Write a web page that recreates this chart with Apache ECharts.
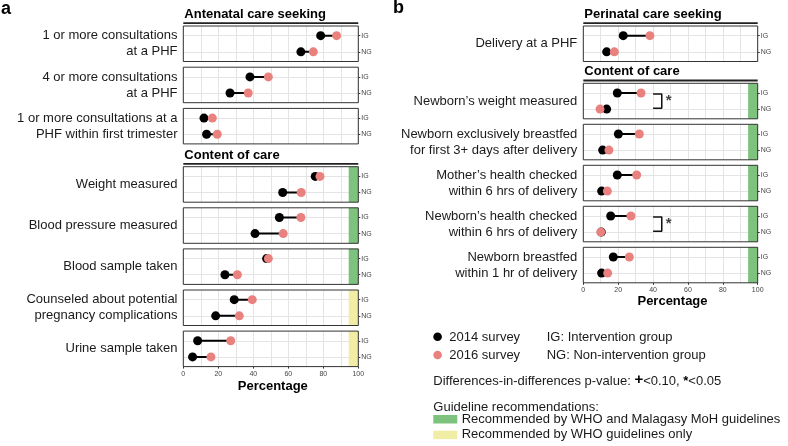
<!DOCTYPE html>
<html><head><meta charset="utf-8">
<script src="https://cdn.jsdelivr.net/npm/echarts@6/dist/echarts.min.js"></script>
<style>html,body{margin:0;padding:0;background:#fff}#c{width:788px;height:446px}</style>
</head><body><div id="c"></div>
<script>
// ---------------- DATA ----------------
const aLabels = [
  '1 or more consultations\nat a PHF',
  '4 or more consultations\nat a PHF',
  '1 or more consultations at a\nPHF within first trimester',
  'Weight measured',
  'Blood pressure measured',
  'Blood sample taken',
  'Counseled about potential\npregnancy complications',
  'Urine sample taken'
];
const a2014IG = [78.5, 38.1, 11.8, 75.4, 54.9, 47.6, 29.1, 8.2];
const a2016IG = [87.6, 48.6, 16.6, 78.1, 67.2, 48.6, 39.4, 27.1];
const a2014NG = [67.2, 26.7, 13.3, 56.8, 41.0, 23.8, 18.5, 5.3];
const a2016NG = [74.3, 37.1, 19.4, 67.4, 57.1, 30.9, 32.0, 15.8];
const aGuide  = [null, null, null, 'both', 'both', 'both', 'who', 'who'];
const aSig    = [null, null, null, null, null, null, null, null];

const bLabels = [
  'Delivery at a PHF',
  'Newborn\u2019s weight measured',
  'Newborn exclusively breastfed\nfor first 3+ days after delivery',
  'Mother\u2019s health checked\nwithin 6 hrs of delivery',
  'Newborn\u2019s health checked\nwithin 6 hrs of delivery',
  'Newborn breastfed\nwithin 1 hr of delivery'
];
const b2014IG = [22.9, 19.5, 20.1, 19.5, 15.7, 17.2];
const b2016IG = [38.2, 33.1, 32.1, 30.6, 27.3, 26.4];
const b2014NG = [13.4, 13.4, 11.1, 10.5, 10.3, 10.5];
const b2016NG = [17.8, 9.6, 14.7, 13.8, 10.0, 14.0];
const bGuide  = [null, 'both', 'both', 'both', 'both', 'both'];
const bSig    = [null, '*', null, null, '*', null];

const rowLabels = ['NG', 'IG'];           // y value 0 = NG, 1 = IG
const groupTitlesA = ['Antenatal care seeking', 'Content of care'];
const groupTitlesB = ['Perinatal care seeking', 'Content of care'];
const sigBracketX = [40, 45];
const sigBracketY = [0.94, 0.06];
const sigStarX = 49;
const guideStart = 94.5;
const legendSurvey = ['2014 survey', '2016 survey'];
const legendGroups = ['IG: Intervention group', 'NG: Non-intervention group'];
const legendGuide = ['Recommended by WHO and Malagasy MoH guidelines', 'Recommended by WHO guidelines only'];

// ---------------- STYLE / LAYOUT ----------------
const FONT = '"Liberation Sans", Arial, Helvetica, sans-serif';
const C_BLACK = '#000000';
const C_PINK = '#E9817F';
const C_GREEN = '#7DC27D';
const C_YELLOW = '#F2EDA4';
const C_GRID = '#E4E4E4';
const H = 35.5;
const colA = { left: 183.3, width: 175, labelX: 177.5, tops: [26, 67.2, 108.4, 166.7, 207.8, 248.9, 290.0, 331.1] };
const colB = { left: 583.3, width: 174.4, labelX: 577.3, tops: [26, 83.3, 124.3, 165.3, 206.3, 247.3] };

const grids = [], xAxes = [], yAxes = [], series = [], graphics = [];

function addColumn(col, labels, b14IG, b16IG, b14NG, b16NG, guide, sig) {
  const n = labels.length;
  for (let i = 0; i < n; i++) {
    const g = grids.length;
    const top = col.tops[i];
    const isLast = i === n - 1;
    grids.push({ left: col.left, top: top, width: col.width, height: H, show: false, containLabel: false });
    xAxes.push({
      gridIndex: g, type: 'value', min: 0, max: 100, interval: 20, position: 'bottom',
      axisLine: { show: false, onZero: false },
      axisTick: { show: isLast, length: 2, lineStyle: { color: '#333' } },
      axisLabel: { show: isLast, fontSize: 7, color: '#444', margin: 4, fontFamily: FONT },
      splitLine: { show: true, lineStyle: { color: C_GRID, width: 1 } },
      minorTick: { show: false, splitNumber: 2 },
      minorSplitLine: { show: true, lineStyle: { color: C_GRID, width: 1 } }
    });
    yAxes.push({
      gridIndex: g, type: 'value', min: -0.6, max: 1.6, position: 'right',
      axisLine: { show: false, onZero: false }, splitLine: { show: false },
      axisTick: { show: true, length: 2, customValues: [0, 1], lineStyle: { color: '#333' } },
      axisLabel: { show: true, customValues: [0, 1], formatter: v => rowLabels[Math.round(v)],
                   fontSize: 7, color: '#444', margin: 3, fontFamily: FONT }
    });
    // segments
    const segIG = {
      type: 'line', xAxisIndex: g, yAxisIndex: g, data: [[b14IG[i], 1], [b16IG[i], 1]],
      symbol: 'none', lineStyle: { color: C_BLACK, width: 2 }, z: 9, silent: true,
      markLine: { z: 1, silent: true, symbol: 'none', label: { show: false },
                  lineStyle: { color: C_GRID, width: 1, type: 'solid' },
                  data: [{ yAxis: 0 }, { yAxis: 1 }] }
    };
    if (guide[i]) {
      segIG.markArea = { z: 2, silent: true,
        itemStyle: { color: guide[i] === 'both' ? C_GREEN : C_YELLOW },
        data: [[{ xAxis: guideStart }, { xAxis: 100 }]] };
    }
    series.push(segIG);
    series.push({ type: 'line', xAxisIndex: g, yAxisIndex: g, data: [[b14NG[i], 0], [b16NG[i], 0]],
      symbol: 'none', lineStyle: { color: C_BLACK, width: 2 }, z: 9, silent: true });
    series.push({ type: 'scatter', xAxisIndex: g, yAxisIndex: g, data: [[b14IG[i], 1], [b14NG[i], 0]],
      symbolSize: 9, itemStyle: { color: C_BLACK, opacity: 1 }, z: 10, silent: true });
    series.push({ type: 'scatter', xAxisIndex: g, yAxisIndex: g, data: [[b16IG[i], 1], [b16NG[i], 0]],
      symbolSize: 9, itemStyle: { color: C_PINK, opacity: 1 }, z: 11, silent: true });
    if (sig[i]) {
      series.push({ type: 'line', xAxisIndex: g, yAxisIndex: g,
        data: [[sigBracketX[0], sigBracketY[0]], [sigBracketX[1], sigBracketY[0]], [sigBracketX[1], sigBracketY[1]], [sigBracketX[0], sigBracketY[1]]],
        symbol: 'none', lineStyle: { color: '#111', width: 1.5 }, z: 9, silent: true });
      series.push({ type: 'scatter', xAxisIndex: g, yAxisIndex: g, data: [[sigStarX, 0.5]], symbolSize: 0, z: 9, silent: true,
        label: { show: true, position: 'inside', formatter: sig[i], fontSize: 15, fontWeight: 'bold', color: '#111', fontFamily: FONT } });
    }
    // border
    graphics.push({ type: 'rect', z: 100, silent: true,
      shape: { x: col.left, y: top, width: col.width, height: H },
      style: { fill: null, stroke: '#333', lineWidth: 1 } });
    // row label
    graphics.push({ type: 'text', z: 100, silent: true, x: col.labelX, y: top + H / 2,
      style: { text: labels[i], font: '13px ' + FONT, fill: '#1a1a1a', align: 'right', verticalAlign: 'middle', lineHeight: 16 } });
  }
}
addColumn(colA, aLabels, a2014IG, a2016IG, a2014NG, a2016NG, aGuide, aSig);
addColumn(colB, bLabels, b2014IG, b2016IG, b2014NG, b2016NG, bGuide, bSig);

function stripTitle(col, text, panelTop) {
  graphics.push({ type: 'text', z: 100, silent: true, x: col.left + 1, y: panelTop - 11.5,
    style: { text: text, font: 'bold 13px ' + FONT, fill: '#000', align: 'left', verticalAlign: 'middle' } });
  graphics.push({ type: 'rect', z: 100, silent: true,
    shape: { x: col.left, y: panelTop - 3.7, width: col.width, height: 1.8 }, style: { fill: '#222' } });
}
stripTitle(colA, groupTitlesA[0], colA.tops[0]);
stripTitle(colA, groupTitlesA[1], colA.tops[3]);
stripTitle(colB, groupTitlesB[0], colB.tops[0]);
stripTitle(colB, groupTitlesB[1], colB.tops[1]);

// axis titles
graphics.push({ type: 'text', z: 100, x: colA.left + colA.width / 2 + 2, y: colA.tops[7] + H + 19.5,
  style: { text: 'Percentage', font: 'bold 13px ' + FONT, fill: '#000', align: 'center', verticalAlign: 'middle' } });
graphics.push({ type: 'text', z: 100, x: colB.left + colB.width / 2 + 2, y: colB.tops[5] + H + 19,
  style: { text: 'Percentage', font: 'bold 13px ' + FONT, fill: '#000', align: 'center', verticalAlign: 'middle' } });
// panel letters
graphics.push({ type: 'text', z: 100, x: 1, y: 9, style: { text: 'a', font: 'bold 18px ' + FONT, fill: '#000', align: 'left', verticalAlign: 'middle' } });
graphics.push({ type: 'text', z: 100, x: 393, y: 8, style: { text: 'b', font: 'bold 18px ' + FONT, fill: '#000', align: 'left', verticalAlign: 'middle' } });

// legend
const LX = 433.3;
[C_BLACK, C_PINK].forEach((c, k) => {
  const y = 336.7 + k * 18.3;
  graphics.push({ type: 'circle', z: 100, shape: { cx: LX + 4.3, cy: y, r: 4.3 }, style: { fill: c } });
  graphics.push({ type: 'text', z: 100, x: 449.3, y: y + 0.5, style: { text: legendSurvey[k], font: '13px ' + FONT, fill: '#1a1a1a', align: 'left', verticalAlign: 'middle' } });
  graphics.push({ type: 'text', z: 100, x: 546.7, y: y + 0.5, style: { text: legendGroups[k], font: '13px ' + FONT, fill: '#1a1a1a', align: 'left', verticalAlign: 'middle' } });
});
graphics.push({ type: 'text', z: 100, x: LX, y: 381.7, style: {
  text: 'Differences-in-differences p-value: {p|+}<0.10, {s|*}<0.05', font: '13px ' + FONT, fill: '#1a1a1a', align: 'left', verticalAlign: 'middle',
  rich: { p: { fontSize: 15, fontWeight: 'bold', fontFamily: FONT, fill: '#000', padding: [0, 0, 4, 0] },
          s: { fontSize: 13, fontWeight: 'bold', fontFamily: FONT, fill: '#000' } } } });
graphics.push({ type: 'text', z: 100, x: LX, y: 407.3, style: { text: 'Guideline recommendations:', font: '13px ' + FONT, fill: '#1a1a1a', align: 'left', verticalAlign: 'middle' } });
[C_GREEN, C_YELLOW].forEach((c, k) => {
  const y = 415 + k * 15.7;
  graphics.push({ type: 'rect', z: 100, shape: { x: LX, y: y, width: 24, height: 8.5 }, style: { fill: c } });
  graphics.push({ type: 'text', z: 100, x: 461.7, y: y + 4.2, style: { text: legendGuide[k], font: '13px ' + FONT, fill: '#1a1a1a', align: 'left', verticalAlign: 'middle' } });
});

const chart = echarts.init(document.getElementById('c'), null, { renderer: 'canvas' });
chart.setOption({
  animation: false,
  backgroundColor: '#ffffff',
  textStyle: { fontFamily: FONT },
  grid: grids, xAxis: xAxes, yAxis: yAxes, series: series,
  graphic: { elements: graphics }
});
</script></body></html>
